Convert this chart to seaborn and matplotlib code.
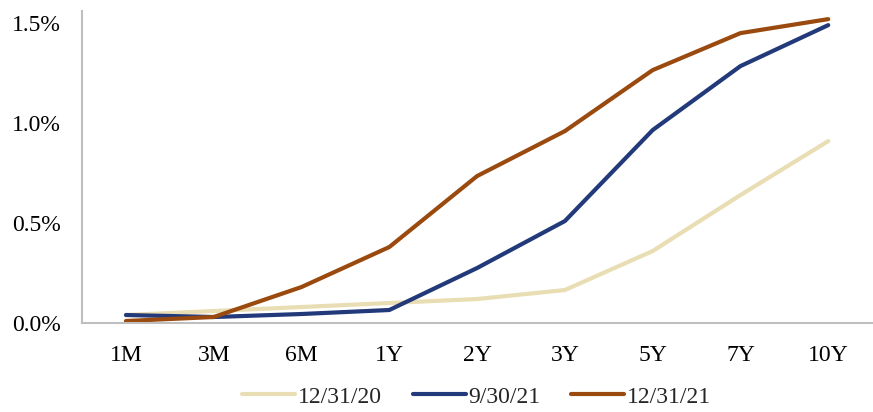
import matplotlib
matplotlib.use("Agg")
import matplotlib.pyplot as plt
import seaborn as sns
import pandas as pd

# Treasury yield curve snapshots (%)
tenors = ["1M", "3M", "6M", "1Y", "2Y", "3Y", "5Y", "7Y", "10Y"]
dates = ["12/31/20", "9/30/21", "12/31/21"]
yields_dec20 = [0.04, 0.06, 0.08, 0.10, 0.12, 0.165, 0.36, 0.64, 0.91]
yields_sep21 = [0.04, 0.03, 0.045, 0.065, 0.275, 0.51, 0.965, 1.285, 1.49]
yields_dec21 = [0.01, 0.03, 0.18, 0.38, 0.735, 0.96, 1.265, 1.45, 1.52]
colors = ["#E9DDB4", "#22397A", "#9A4A0E"]

frames = []
for d, vals in zip(dates, [yields_dec20, yields_sep21, yields_dec21]):
    frames.append(pd.DataFrame({"tenor": tenors, "yield": vals, "date": d}))
df = pd.concat(frames, ignore_index=True)

sns.set_theme(style="white")
plt.rcParams["font.family"] = ["Liberation Serif", "DejaVu Serif"]

fig = plt.figure(figsize=(8.73, 4.12), dpi=100)
ax = fig.add_axes([0.094, 0.216, 0.905, 0.757])

sns.lineplot(data=df, x="tenor", y="yield", hue="date", hue_order=dates,
             palette=colors, linewidth=3.0, ax=ax, sort=False,
             legend=False)

ax.set_xlim(-0.5, len(tenors) - 0.5)
ax.set_ylim(0, 1.56)
ax.set_yticks([0, 0.5, 1.0, 1.5])
ax.set_yticklabels([f"{v:.1f}%" for v in [0, 0.5, 1.0, 1.5]])
ax.set_xlabel("")
ax.set_ylabel("")
ax.tick_params(axis="both", length=0, labelsize=17, colors="black")
ax.tick_params(axis="x", pad=16)
ax.tick_params(axis="y", pad=15)

for side in ["top", "right"]:
    ax.spines[side].set_visible(False)
for side in ["left", "bottom"]:
    ax.spines[side].set_color("#BFBFBF")
    ax.spines[side].set_linewidth(1.5)

handles = [plt.Line2D([], [], color=c, linewidth=3.0) for c in colors]
fig.legend(handles, dates, loc="center", bbox_to_anchor=(0.546, 0.037),
           ncol=3, frameon=False, fontsize=17, handlelength=2.25,
           handletextpad=0.12, columnspacing=1.3)

fig.savefig("out.png", dpi=100)
